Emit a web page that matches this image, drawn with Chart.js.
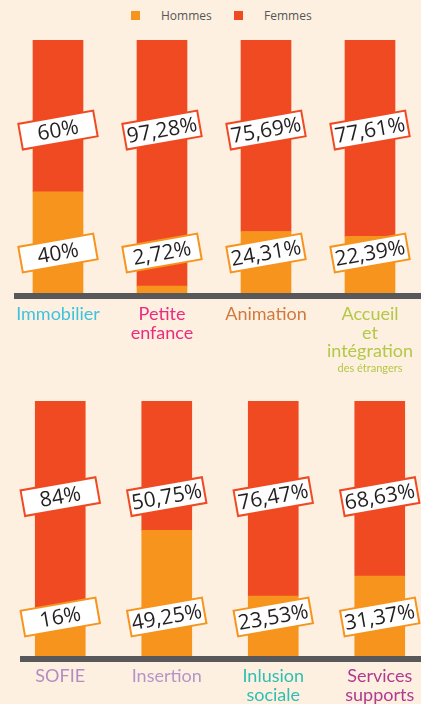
<!DOCTYPE html>
<html lang="fr">
<head>
<meta charset="utf-8">
<title>Hommes / Femmes par pôle</title>
<script src="https://cdn.jsdelivr.net/npm/chart.js@4.4.1/dist/chart.umd.min.js"></script>
<style>
  html, body { margin: 0; padding: 0; }
  body { width: 421px; height: 704px; overflow: hidden; background: #fdf0e1; position: relative; }
  #legend { position: absolute; top: 0; left: 0; width: 421px; height: 30px; font: 12px "Open Sans", sans-serif; color: #555; }
  .leg { position: absolute; top: 11px; height: 9px; display: flex; align-items: center; white-space: nowrap; }
  .leg__box { width: 9px; height: 9px; margin-right: 21px; }
  canvas { position: absolute; left: 0; }
  #chart-top { top: 0; }
  #chart-bottom { top: 380px; }
</style>
</head>
<body>
<div id="legend"></div>
<canvas id="chart-top" width="432" height="380"></canvas>
<canvas id="chart-bottom" width="440" height="324"></canvas>
<script>
// Two panels of 100% stacked bars, share of men / women per service.

const series = ["Hommes", "Femmes"];
const seriesColors = ["#f7941d", "#f04a23"];

const topCategories = [["Immobilier"], ["Petite", "enfance"], ["Animation"], ["Accueil", "et", "intégration", "des étrangers"]];
const topHommes = [40, 2.72, 24.31, 22.39];
const topFemmes = [60, 97.28, 75.69, 77.61];
const topColors = ["#3ec3df", "#ec2b7c", "#cf7a3f", "#b4c746"];

const bottomCategories = [["SOFIE"], ["Insertion"], ["Inlusion", "sociale"], ["Services", "supports"]];
const bottomHommes = [16, 49.25, 23.53, 31.37];
const bottomFemmes = [84, 50.75, 76.47, 68.63];
const bottomColors = ["#b48bc2", "#b495c7", "#2fbfb2", "#b13a8f"];

const smallLines = ["des étrangers"];

const fmtPct = (v) => String(v).replace(".", ",") + "%";

// axis bar, rotated value boxes and coloured category names
const decor = {
  id: "decor",
  afterDatasetsDraw(chart, args, opts) {
    const { ctx, chartArea } = chart;
    const x = chart.scales.x;
    const y = chart.scales.y;
    ctx.save();

    ctx.fillStyle = "#58585a";
    ctx.fillRect(opts.axisFrom, chartArea.bottom, chart.width - opts.axisFrom, 6);

    chart.data.datasets.forEach((ds, di) => {
      const yPix = y.getPixelForValue(opts.levels[di]);
      ds.data.forEach((v, i) => {
        ctx.save();
        ctx.translate(x.getPixelForValue(i), yPix);
        ctx.rotate(-10 * Math.PI / 180);
        ctx.fillStyle = "#fff";
        ctx.fillRect(-38, -13, 76, 26);
        ctx.lineWidth = 2;
        ctx.strokeStyle = ds.backgroundColor;
        ctx.strokeRect(-38, -13, 76, 26);
        ctx.fillStyle = "#231f20";
        ctx.font = '21px "Open Sans"';
        ctx.textAlign = "center";
        ctx.textBaseline = "middle";
        ctx.fillText(fmtPct(v), 0, 1);
        ctx.restore();
      });
    });

    ctx.textAlign = "center";
    ctx.textBaseline = "alphabetic";
    chart.data.labels.forEach((lines, i) => {
      const cx = x.getPixelForValue(i);
      let by = chartArea.bottom + opts.labelOffset;
      ctx.fillStyle = opts.labelColors[i];
      lines.forEach((line) => {
        const small = smallLines.includes(line);
        if (small) by -= 4;
        ctx.font = small ? '11px Lato' : '18px Lato';
        ctx.fillText(line, cx, by);
        by += 18.5;
      });
    });

    ctx.restore();
  },
};

function makeChart(id, labels, hommes, femmes, padding, extra) {
  return new Chart(document.getElementById(id), {
    type: "bar",
    data: {
      labels,
      datasets: [
        { label: series[0], data: hommes, backgroundColor: seriesColors[0], barThickness: 50 },
        { label: series[1], data: femmes, backgroundColor: seriesColors[1], barThickness: 50 },
      ],
    },
    options: {
      responsive: false,
      animation: false,
      layout: { padding },
      plugins: { legend: { display: false }, tooltip: { enabled: false }, decor: extra },
      scales: {
        x: { stacked: true, display: false },
        y: { stacked: true, display: false, min: 0, max: 100 },
      },
    },
    plugins: [decor],
  });
}

const topChart = makeChart("chart-top", topCategories, topHommes, topFemmes,
  { top: 40, bottom: 87, left: 6, right: 10 },
  { axisFrom: 14, levels: [15.8, 64.4], labelColors: topColors, labelOffset: 27 });

makeChart("chart-bottom", bottomCategories, bottomHommes, bottomFemmes,
  { top: 21, bottom: 48, left: 7, right: 7 },
  { axisFrom: 20, levels: [15.3, 62.5], labelColors: bottomColors, labelOffset: 26 });

// legend built from the datasets of the top chart
const legendLeft = [131, 234];
document.getElementById("legend").innerHTML = topChart.data.datasets
  .map((ds, i) => `<div class="leg" style="left:${legendLeft[i]}px"><span class="leg__box" style="background:${ds.backgroundColor}"></span>${ds.label}</div>`)
  .join("");
</script>
</body>
</html>
